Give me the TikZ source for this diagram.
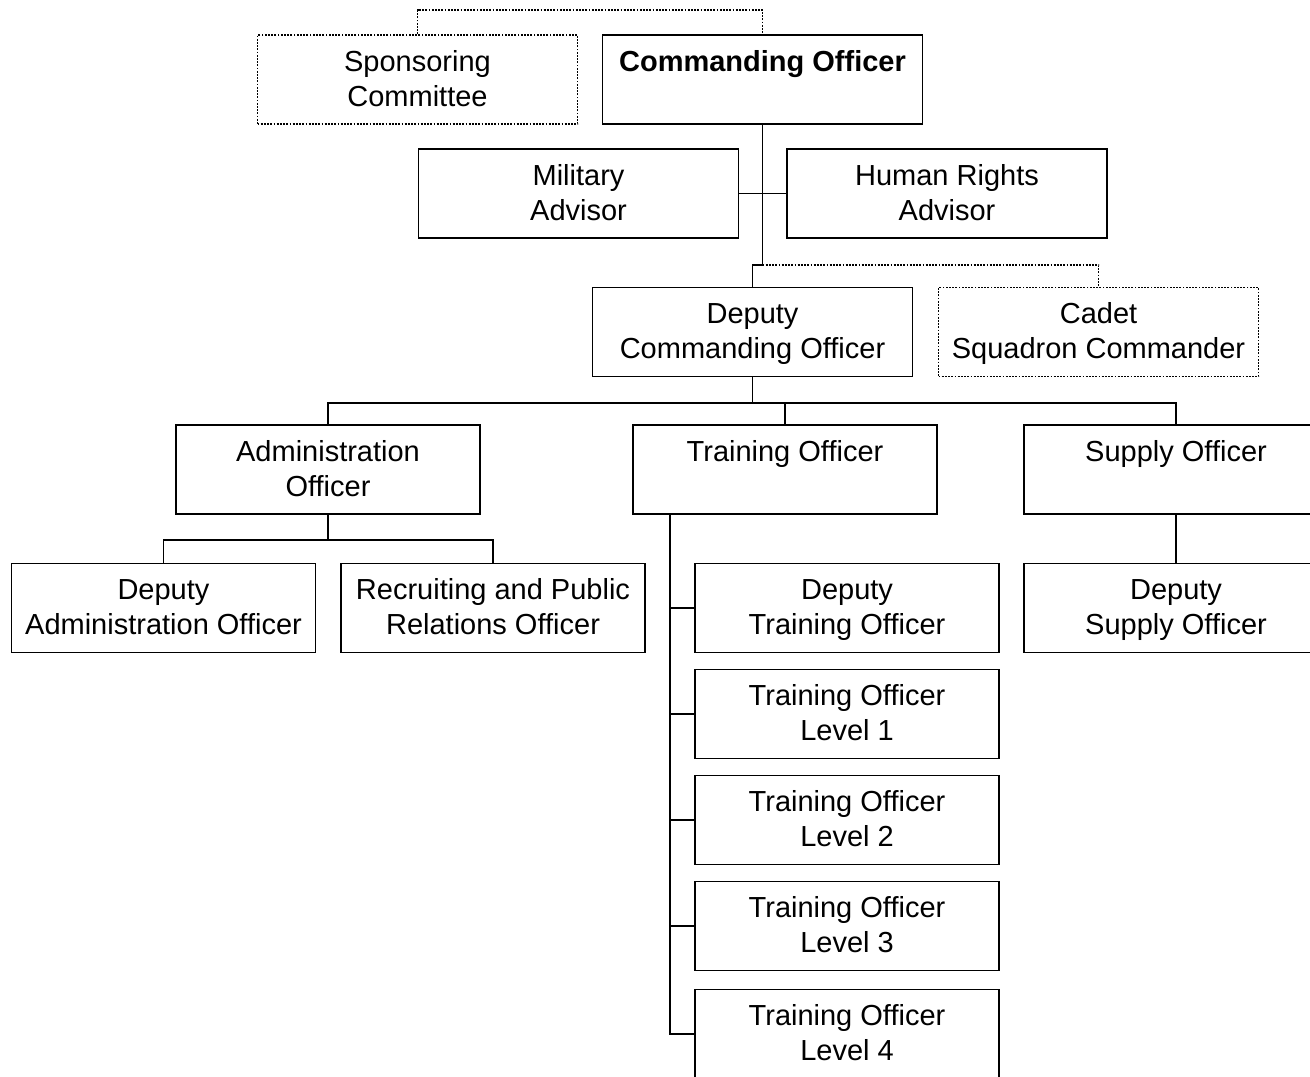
\documentclass[tikz,border=0pt]{standalone}
\usepackage{fontspec}
\setmainfont{Liberation Sans}
\usetikzlibrary{calc}

\tikzstyle{org-box}=[draw, line width=0.9pt, rectangle, align=center, inner sep=0pt,
      minimum width=160pt, minimum height=44.5pt, font=\fontsize{14.5}{17.5}\selectfont]
\tikzstyle{org-box-small}=[org-box, minimum width=152pt]
\tikzstyle{org-box-dotted}=[org-box, dash pattern=on 0.9pt off 0.7pt]
\tikzstyle{org-link}=[line width=0.9pt]
\tikzstyle{org-link-dotted}=[line width=0.9pt, dash pattern=on 0.9pt off 0.7pt]
\newcommand{\boxtext}[2]{\rule{0pt}{14.25pt}#1\\\strut #2}

\begin{document}
\begin{tikzpicture}[x=0.5pt, y=-0.5pt]
      \useasboundingbox (0, 0) rectangle (1310, 1076);
      \node (sponsor) at (417.5, 79.5)
            [org-box-dotted] {\boxtext{Sponsoring}{Committee}};
      \node (co) at (762.5, 79.5)
            [org-box] {\boxtext{\bfseries Commanding Officer}{}};
      \node (milad) at (578.5, 193.5)
            [org-box] {\boxtext{Military}{Advisor}};
      \node (hrad) at (947, 193.5)
            [org-box] {\boxtext{Human Rights}{Advisor}};
      \node (dco) at (752.5, 332)
            [org-box] {\boxtext{Deputy}{Commanding Officer}};
      \node (cadet) at (1098.5, 332)
            [org-box-dotted] {\boxtext{Cadet}{Squadron Commander}};
      \node (admin) at (328, 469.5)
            [org-box-small] {\boxtext{Administration}{Officer}};
      \node (train) at (785, 469.5)
            [org-box-small] {\boxtext{Training Officer}{}};
      \node (supply) at (1176, 469.5)
            [org-box-small] {\boxtext{Supply Officer}{}};
      \node (dadmin) at (163.5, 608)
            [org-box-small] {\boxtext{Deputy}{Administration Officer}};
      \node (recruit) at (493, 608)
            [org-box-small] {\boxtext{Recruiting and Public}{Relations Officer}};
      \node (dtrain) at (847, 608)
            [org-box-small] {\boxtext{Deputy}{Training Officer}};
      \node (level1) at (847, 714)
            [org-box-small] {\boxtext{Training Officer}{Level 1}};
      \node (level2) at (847, 820)
            [org-box-small] {\boxtext{Training Officer}{Level 2}};
      \node (level3) at (847, 926)
            [org-box-small] {\boxtext{Training Officer}{Level 3}};
      \node (level4) at (847, 1034)
            [org-box-small] {\boxtext{Training Officer}{Level 4}};
      \node (dsupply) at (1176, 608)
            [org-box-small] {\boxtext{Deputy}{Supply Officer}};

      \coordinate (top-join) at (762.5, 10);
      \coordinate (co-join) at (762.5, 265);
      \coordinate (dco-join) at (752.5, 403);
      \coordinate (admin-join) at (328, 540);
      \coordinate (train-spine) at (670, 514);

      \draw[org-link-dotted] (sponsor.north) |- (top-join) -- (co.north);
      \draw[org-link] (co.south) -- (co-join) -| (dco.north);
      \draw[org-link] (milad.east) -- (hrad.west);
      \draw[org-link-dotted] (co-join) -| (cadet.north);
      \draw[org-link] (dco.south) -- (dco-join);
      \draw[org-link] (admin.north) |- (supply.north |- dco-join) -- (supply.north);
      \draw[org-link] (train.north) -- (train.north |- dco-join);
      \draw[org-link] (admin.south) -- (admin-join);
      \draw[org-link] (dadmin.north) |- (recruit.north |- admin-join) -- (recruit.north);
      \draw[org-link] (train-spine) -- (train-spine |- level4.west) -- (level4.west);
      \foreach \n in {dtrain, level1, level2, level3}
            \draw[org-link] (train-spine |- \n.west) -- (\n.west);
      \draw[org-link] (supply.south) -- (dsupply.north);
\end{tikzpicture}
\end{document}
